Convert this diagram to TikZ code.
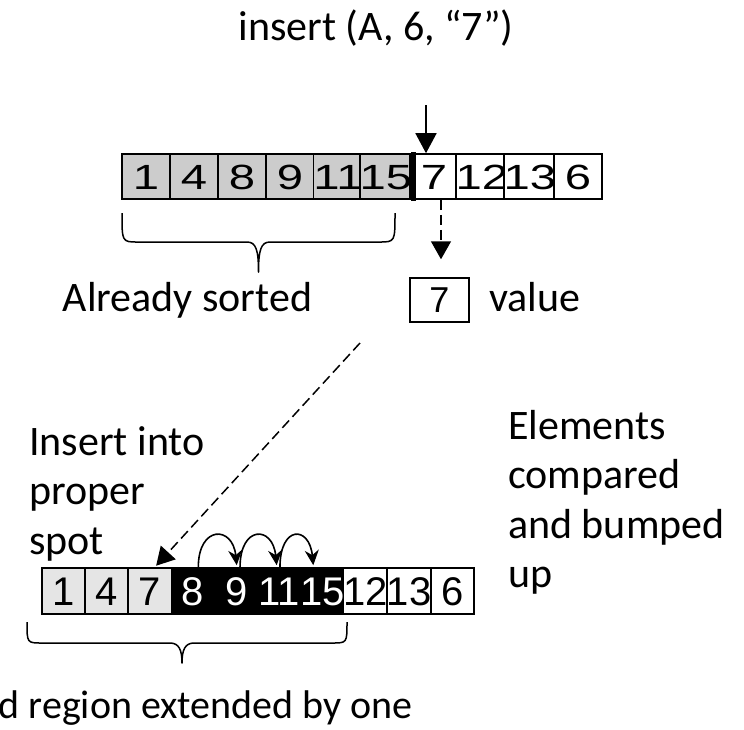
\documentclass[tikz,border=0pt]{standalone}
\usepackage{fontspec}
\setmainfont{Carlito}
\newfontfamily\arialfont{Liberation Sans}
\newfontfamily\arialwide[FakeStretch=1.35]{Liberation Sans}
\usetikzlibrary{arrows.meta}
\definecolor{sortdark}{gray}{0.80}
\definecolor{sortlight}{gray}{0.90}

\begin{document}
\begin{tikzpicture}[x=1pt,y=-1pt,
  lbl/.style={inner sep=0pt, font=\fontsize{42}{49.5}\selectfont},
  topcell/.style={draw, line width=1.6pt, minimum width=48pt, minimum height=45pt,
    inner sep=0pt, text height=25pt, text depth=0pt,
    font=\arialwide\fontsize{35}{40}\selectfont},
  botcell/.style={draw, line width=1.6pt, minimum width=43.23pt, minimum height=46pt,
    inner sep=0pt, text height=28.6pt, text depth=0pt,
    font=\arialfont\fontsize{40}{48}\selectfont},
  valbox/.style={draw, line width=1.5pt, minimum width=59pt, minimum height=44pt,
    inner sep=0pt, text height=25.8pt, text depth=0pt,
    font=\arialfont\fontsize{36}{42}\selectfont},
  solidarrow/.style={line width=1.6pt, -{Triangle[length=20pt,width=21pt]}},
  dasharrow/.style={line width=1.5pt, dash pattern=on 10pt off 5pt,
    -{Triangle[length=18pt,width=20pt]}},
  bump/.style={line width=1.6pt, -{Stealth[length=15pt,width=14pt]}},
  brace/.style={line width=1.5pt, line join=round}
]
\useasboundingbox (0,0) rectangle (744,729);

% title
\node[lbl, anchor=base] (title) at (376,40) {insert (A, 6, “7”)};

% array before the insertion step
\foreach \v [count=\i] in {1,4,8,9,11,15}
  \node[topcell, fill=sortdark] (t\i) at ({98+48*\i},176.5) {\v};
\foreach \v [count=\i from 7] in {7,12,13,6}
  \node[topcell, fill=white] (t\i) at ({98+48*\i},176.5) {\v};
% boundary of the sorted part
\fill ([xshift=-2.5pt,yshift=0.8pt]t6.north east) rectangle ([xshift=3pt,yshift=-0.8pt]t6.south east);

% next element to insert
\coordinate (drop) at (426,105);
\draw[solidarrow] (drop) -- ([xshift=-8pt]t7.north);

% held value
\node[valbox] (v7) at (439.5,300) {7};
\node[lbl, anchor=base west] (val) at (489,311.7) {value};
\draw[dasharrow, shorten >=18pt] ([xshift=7pt]t7.south) -- ([xshift=1.5pt]v7.north);

% brace under the sorted part
\draw[brace] (122,213) .. controls (122,242) .. (138,242) -- (247,242)
  .. controls (256,242) and (258.5,250) .. (258.5,272)
  .. controls (258.5,250) and (261,242) .. (270,242) -- (379,242)
  .. controls (395,242) .. (395,213);
\node[lbl, anchor=base] (sorted) at (187.5,311.7) {Already sorted};

% side notes (base anchor sits on the last line)
\node[lbl, anchor=base west, align=left] (ins) at (29,554) {Insert into\\proper\\spot};
\node[lbl, anchor=base west, align=left] (elem) at (508,587.5) {Elements\\compared\\and bumped\\up};

% array after the insertion step
\foreach \v [count=\i] in {1,4,7}
  \node[botcell, fill=sortlight] (b\i) at ({41.7+43.23*(\i-0.5)},591) {\v};
\foreach \v [count=\i from 4] in {8,9,11,15}
  \node[botcell, fill=black, text=white] (b\i) at ({41.7+43.23*(\i-0.5)},591) {\v};
\foreach \v [count=\i from 8] in {12,13,6}
  \node[botcell, fill=white] (b\i) at ({41.7+43.23*(\i-0.5)},591) {\v};

% value dropped into place
\coordinate (lift) at (360,343);
\draw[dasharrow, shorten >=2pt] (lift) -- ([xshift=5pt]b3.north);

% elements shifted up by one
\draw[bump] ([xshift=5.3pt]b4.north) .. controls +(0,-42) and +(-4,-40) .. ([xshift=0.5pt,yshift=2pt]b5.north);
\draw[bump] ([xshift=3.8pt]b5.north) .. controls +(0,-42) and +(-4,-40) .. ([xshift=-2.8pt,yshift=2pt]b6.north);
\draw[bump] ([xshift=0.5pt]b6.north) .. controls +(0,-42) and +(-4,-40) .. ([xshift=-9.4pt,yshift=2pt]b7.north);

% brace under the extended sorted part
\draw[brace] (27,622) .. controls (27,643) .. (42,643) -- (170,643)
  .. controls (179,643) and (182,650) .. (182,663)
  .. controls (182,650) and (185,643) .. (194,643) -- (332,643)
  .. controls (347,643) .. (347,622);
\node[lbl, anchor=base east, font=\fontsize{40}{48}\selectfont] (ext) at (413,718) {d region extended by one};
\end{tikzpicture}
\end{document}
